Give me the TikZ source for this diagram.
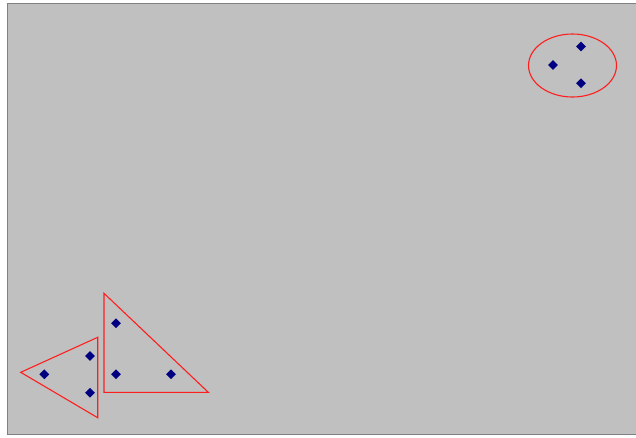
\documentclass[tikz,border=0pt]{standalone}
\definecolor{bg}{RGB}{192,192,192}
\definecolor{frame}{RGB}{128,128,128}
\definecolor{pt}{RGB}{0,0,128}
\definecolor{hull}{RGB}{255,30,30}
\tikzset{
  pnt/.style={fill=pt, draw=none, shape=diamond, minimum width=10pt, minimum height=10pt, inner sep=0pt},
  hullline/.style={draw=hull, line width=1.1pt}
}
\usetikzlibrary{shapes.geometric}
\begin{document}
\begin{tikzpicture}[x=1pt,y=-1pt]
\useasboundingbox (0,0) rectangle (636,437);
\fill[white] (0,0) rectangle (636,437);
\draw[fill=bg, draw=frame, line width=1.5pt] (7.5,3.5) rectangle (640,434.5);
% ellipse cluster
\draw[hullline] (572.5,65.5) ellipse [x radius=44, y radius=31.5];
\node[pnt] (e1) at (581,46.5) {};
\node[pnt] (e2) at (553,65) {};
\node[pnt] (e3) at (581,83.3) {};
% right triangle
\coordinate (ra) at (104,293.3);
\coordinate (rb) at (104,392.3);
\coordinate (rc) at (208.3,392.3);
\draw[hullline] (ra) -- (rb) -- (rc) -- cycle;
\node[pnt] (r1) at (116,323.3) {};
\node[pnt] (r2) at (116,374.3) {};
\node[pnt] (r3) at (171,374.3) {};
% left triangle
\coordinate (la) at (20.7,372.3);
\coordinate (lb) at (97.7,337.3);
\coordinate (lc) at (97.7,417.7);
\draw[hullline] (la) -- (lb) -- (lc) -- cycle;
\node[pnt] (l1) at (44.3,374.3) {};
\node[pnt] (l2) at (90,356) {};
\node[pnt] (l3) at (90,392.7) {};
\end{tikzpicture}
\end{document}
